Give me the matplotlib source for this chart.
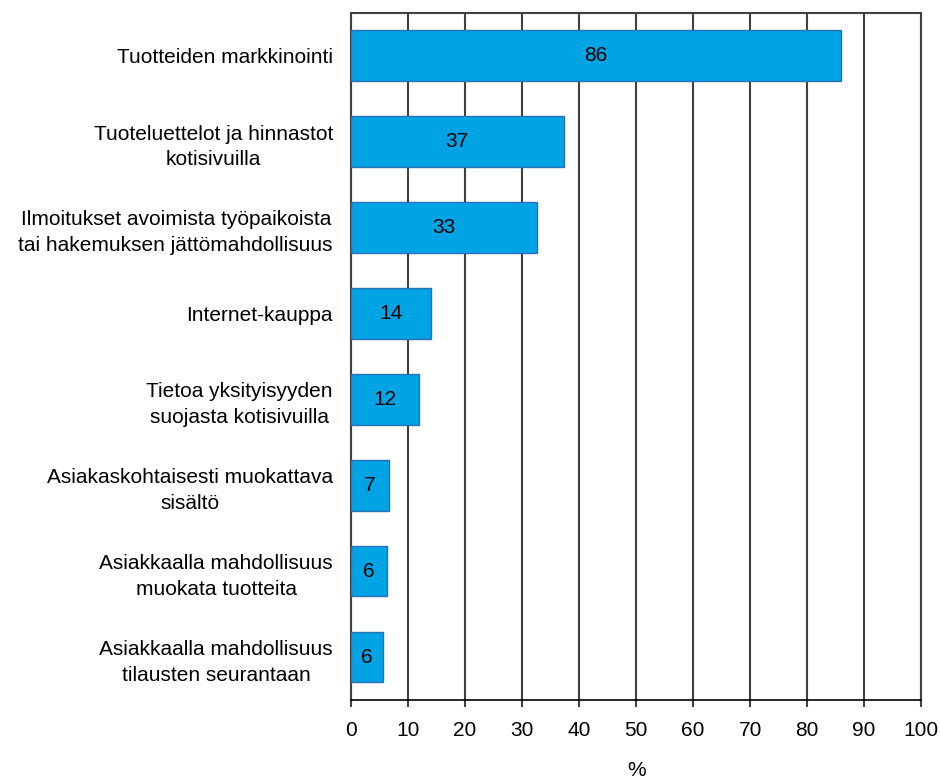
import matplotlib
matplotlib.use("Agg")
import matplotlib.pyplot as plt

categories = [
    "Tuotteiden markkinointi",
    "Tuoteluettelot ja hinnastot\nkotisivuilla",
    "Ilmoitukset avoimista työpaikoista\ntai hakemuksen jättömahdollisuus",
    "Internet-kauppa",
    "Tietoa yksityisyyden\nsuojasta kotisivuilla",
    "Asiakaskohtaisesti muokattava\nsisältö",
    "Asiakkaalla mahdollisuus\nmuokata tuotteita",
    "Asiakkaalla mahdollisuus\ntilausten seurantaan",
]
values = [86, 37, 33, 14, 12, 7, 6, 6]
# actual bar lengths (slightly different from rounded labels)
bar_lengths = [86, 37.3, 32.7, 14.1, 11.9, 6.7, 6.4, 5.7]
xticks = list(range(0, 101, 10))

plt.rcParams['font.family'] = ['Liberation Sans', 'DejaVu Sans']
FS = 15

fig = plt.figure(figsize=(9.4, 7.78), dpi=100)
ax = fig.add_axes([0.3734, 0.1003, 0.6066, 0.8834])

ypos = list(range(len(categories)))
ax.set_axisbelow(True)
ax.xaxis.grid(True, color='#404040', linewidth=1.5)
ax.barh(ypos, bar_lengths, height=0.59, color='#00A3E4', edgecolor='#2A6FB8', linewidth=1.0, zorder=3)
for y, v, L in zip(ypos, values, bar_lengths):
    ax.text(L / 2, y, str(v), ha='center', va='center', fontsize=FS, color='black', zorder=4)

ax.set_xlim(0, 100)
ax.set_ylim(len(categories) - 0.5, -0.5)
ax.set_xticks(xticks)
ax.set_xticklabels([str(t) for t in xticks], fontsize=FS)
ax.set_yticks(ypos)
ax.set_yticklabels(categories, fontsize=FS, multialignment='center', linespacing=1.45)
ax.tick_params(axis='y', length=0, pad=13)
ax.tick_params(axis='x', length=5, width=1.5, color='#404040', pad=10)
for s in ['top', 'right', 'left']:
    ax.spines[s].set_color('#404040')
    ax.spines[s].set_linewidth(1.5)
ax.spines['bottom'].set_color('black')
ax.spines['bottom'].set_linewidth(1.2)
ax.set_xlabel('%', fontsize=FS, labelpad=15)

fig.savefig('out.png', dpi=100, facecolor='white')
